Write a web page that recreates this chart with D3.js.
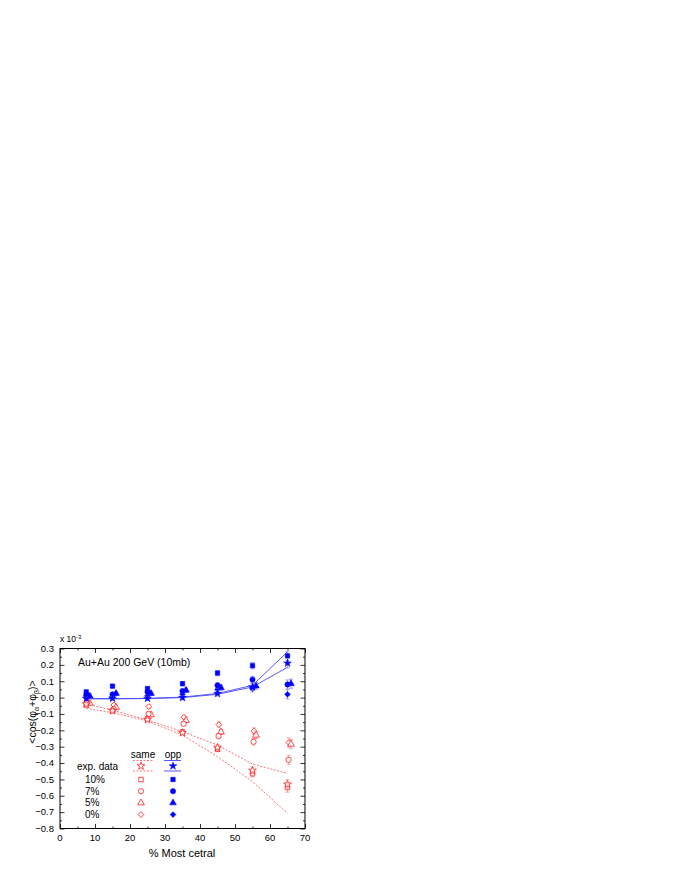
<!DOCTYPE html>
<html>
<head>
<meta charset="utf-8">
<script src="https://cdn.jsdelivr.net/npm/d3@7"></script>
<style>
  body { margin: 0; background: #fff; }
  text { font-family: "Liberation Sans", Arial, sans-serif; }
</style>
</head>
<body>
<svg width="680" height="880"></svg>
<script>
var svg = d3.select("svg");

// centralities (% most central)
var cent = [7.5, 15, 25, 35, 45, 55, 65];
var errs = [0.008, 0.01, 0.012, 0.013, 0.016, 0.02, 0.028];

// opposite charge (blue, filled)
var oppStar = [-0.005, -0.005, -0.005, 0.0, 0.025, 0.065, 0.21];
var opp10 = [0.035, 0.07, 0.055, 0.085, 0.15, 0.195, 0.255];
var opp7 = [0.015, 0.02, 0.035, 0.04, 0.075, 0.11, 0.08];
var opp5 = [0.01, 0.025, 0.025, 0.045, 0.06, 0.07, 0.085];
var opp0 = [0.0, 0.005, 0.01, 0.02, 0.05, 0.055, 0.02];
var oppLineA = [-0.007, -0.007, -0.005, 0.003, 0.025, 0.075, 0.28];
var oppLineB = [-0.007, -0.007, -0.006, 0.0, 0.02, 0.065, 0.185];

// same charge (red, open)
var sameStar = [-0.04, -0.08, -0.135, -0.215, -0.305, -0.445, -0.53];
var same10 = [-0.045, -0.08, -0.13, -0.21, -0.315, -0.465, -0.55];
var same7 = [-0.03, -0.07, -0.1, -0.16, -0.235, -0.27, -0.38];
var same5 = [-0.035, -0.06, -0.105, -0.14, -0.21, -0.23, -0.285];
var same0 = [-0.025, -0.045, -0.055, -0.12, -0.165, -0.205, -0.275];
var sameLineA = [-0.039, -0.076, -0.137, -0.208, -0.29, -0.406, -0.463];
var sameLineB = [-0.066, -0.092, -0.143, -0.229, -0.361, -0.514, -0.707];

var xTicks = [0, 10, 20, 30, 40, 50, 60, 70];
var yTicks = [0.3, 0.2, 0.1, 0.0, -0.1, -0.2, -0.3, -0.4, -0.5, -0.6, -0.7, -0.8];
var legendRows = ["10%", "7%", "5%", "0%"];

var x = d3.scaleLinear().domain([0, 70]).range([60, 305]);
var y = d3.scaleLinear().domain([-0.8, 0.3]).range([828.5, 648.5]);

var blue = "#0000ff", red = "#ff2020";
var blueErr = "#8c8cff", redErr = "#ff9090";

var xMinor = d3.range(5, 70, 10);
var yMinor = d3.range(-0.75, 0.3, 0.1);

// inward ticks on all four sides
function ticks(axis, tr, vals, len) {
  var g = svg.append("g").attr("transform", tr);
  g.call(axis.tickValues(vals).tickSize(len).tickFormat(""));
}
ticks(d3.axisTop(x), "translate(0,828.5)", xMinor, 2);
ticks(d3.axisTop(x), "translate(0,828.5)", xTicks, 4.5);
ticks(d3.axisBottom(x), "translate(0,648.5)", xMinor, 2);
ticks(d3.axisBottom(x), "translate(0,648.5)", xTicks, 4.5);
ticks(d3.axisRight(y), "translate(60,0)", yMinor, 2);
ticks(d3.axisRight(y), "translate(60,0)", yTicks, 4.5);
ticks(d3.axisLeft(y), "translate(305,0)", yMinor, 2);
ticks(d3.axisLeft(y), "translate(305,0)", yTicks, 4.5);
svg.selectAll(".domain").remove();
svg.selectAll(".tick line").attr("stroke", "#000").attr("stroke-width", 0.8);

// tick labels
svg.append("g").selectAll("text").data(xTicks).enter().append("text")
  .attr("x", function (d) { return x(d); })
  .attr("y", 841)
  .attr("text-anchor", "middle")
  .attr("font-size", 9.5)
  .text(function (d) { return d; });

svg.append("g").selectAll("text").data(yTicks).enter().append("text")
  .attr("x", 54)
  .attr("y", function (d) { return y(d) + 3.3; })
  .attr("text-anchor", "end")
  .attr("font-size", 9.5)
  .text(function (d) { return d3.format(".1f")(d); });

// frame
svg.append("rect")
  .attr("x", 60).attr("y", 648.5).attr("width", 245).attr("height", 180)
  .attr("fill", "none").attr("stroke", "#000").attr("stroke-width", 1);

// x 10^-3
var mult = svg.append("text").attr("x", 60).attr("y", 642).attr("font-size", 8.5);
mult.append("tspan").text("x 10");
mult.append("tspan").attr("dy", -3.5).attr("font-size", 6).text("-3");

// axis titles
svg.append("text")
  .attr("x", 182).attr("y", 857)
  .attr("text-anchor", "middle").attr("font-size", 11)
  .text("% Most cetral");

var yt = svg.append("text")
  .attr("transform", "translate(36,712) rotate(-90)")
  .attr("text-anchor", "middle").attr("font-size", 10.5);
yt.append("tspan").text("<cos(\u03c6");
yt.append("tspan").attr("dy", 3).attr("font-size", 7).text("\u03b1");
yt.append("tspan").attr("dy", -3).text("+\u03c6");
yt.append("tspan").attr("dy", 3).attr("font-size", 7).text("\u03b2");
yt.append("tspan").attr("dy", -3).text(")>");

svg.append("text")
  .attr("x", 78).attr("y", 665.5)
  .attr("font-size", 10.5)
  .text("Au+Au 200 GeV (10mb)");

// model lines
var line = d3.line()
  .x(function (d, i) { return x(cent[i]); })
  .y(function (d) { return y(d); });

[sameLineA, sameLineB].forEach(function (s) {
  svg.append("path").attr("d", line(s))
    .attr("fill", "none").attr("stroke", "#ff5050")
    .attr("stroke-width", 0.8).attr("stroke-dasharray", "2,1.5");
});
[oppLineA, oppLineB].forEach(function (s) {
  svg.append("path").attr("d", line(s))
    .attr("fill", "none").attr("stroke", "#4646ff")
    .attr("stroke-width", 0.9);
});

var sym = {
  star: d3.symbol().type(d3.symbolStar).size(19),
  square: d3.symbol().type(d3.symbolSquare).size(20),
  circle: d3.symbol().type(d3.symbolCircle).size(22),
  triangle: d3.symbol().type(d3.symbolTriangle).size(20),
  diamond: d3.symbol().type(d3.symbolSquare).size(17)
};
function rot(shape) { return shape === "diamond" ? " rotate(45)" : ""; }

function series(vals, shape, dx, filled, col, ecol) {
  var g = svg.append("g");
  var pts = vals.map(function (v, i) { return { cx: cent[i] + dx, v: v, e: errs[i] }; });
  var eb = g.selectAll(".eb").data(pts).enter().append("g");
  eb.append("line")
    .attr("x1", function (d) { return x(d.cx); }).attr("x2", function (d) { return x(d.cx); })
    .attr("y1", function (d) { return y(d.v - d.e); }).attr("y2", function (d) { return y(d.v + d.e); })
    .attr("stroke", ecol).attr("stroke-width", 0.8);
  [-1, 1].forEach(function (sgn) {
    eb.append("line")
      .attr("x1", function (d) { return x(d.cx) - 2; }).attr("x2", function (d) { return x(d.cx) + 2; })
      .attr("y1", function (d) { return y(d.v + sgn * d.e); }).attr("y2", function (d) { return y(d.v + sgn * d.e); })
      .attr("stroke", ecol).attr("stroke-width", 0.8);
  });
  g.selectAll(".m").data(pts).enter().append("path")
    .attr("d", sym[shape])
    .attr("transform", function (d) { return "translate(" + x(d.cx) + "," + y(d.v) + ")" + rot(shape); })
    .attr("fill", filled ? col : "#fff")
    .attr("stroke", col)
    .attr("stroke-width", filled ? 0.5 : 0.8);
}

series(same0, "diamond", 0.4, false, red, redErr);
series(same5, "triangle", 1, false, red, redErr);
series(same7, "circle", 0.3, false, red, redErr);
series(same10, "square", 0, false, red, redErr);
series(sameStar, "star", 0, false, red, redErr);

series(opp0, "diamond", 0, true, blue, blueErr);
series(opp5, "triangle", 1, true, blue, blueErr);
series(opp7, "circle", 0, true, blue, blueErr);
series(opp10, "square", 0, true, blue, blueErr);
series(oppStar, "star", 0, true, blue, blueErr);

// legend
var lg = svg.append("g").attr("font-size", 10);
lg.append("text").attr("x", 143).attr("y", 758).attr("text-anchor", "middle").text("same");
lg.append("text").attr("x", 173).attr("y", 758).attr("text-anchor", "middle").text("opp");
[760.5, 771].forEach(function (ly) {
  lg.append("line").attr("x1", 133).attr("x2", 153).attr("y1", ly).attr("y2", ly)
    .attr("stroke", "#ff5050").attr("stroke-width", 0.8).attr("stroke-dasharray", "2,1.5");
  lg.append("line").attr("x1", 164).attr("x2", 181).attr("y1", ly).attr("y2", ly)
    .attr("stroke", "#4646ff").attr("stroke-width", 0.9);
});
lg.append("text").attr("x", 77).attr("y", 769.5).text("exp. data");
lg.append("path").attr("d", sym.star).attr("transform", "translate(141,766)")
  .attr("fill", "#fff").attr("stroke", red).attr("stroke-width", 0.8);
lg.append("path").attr("d", sym.star).attr("transform", "translate(173,766)")
  .attr("fill", blue).attr("stroke", blue).attr("stroke-width", 0.5);
var shapes = ["square", "circle", "triangle", "diamond"];
legendRows.forEach(function (r, i) {
  var ly = 779.5 + i * 11.7;
  lg.append("text").attr("x", 85).attr("y", ly + 3.5).text(r);
  lg.append("path").attr("d", sym[shapes[i]]).attr("transform", "translate(141," + ly + ")" + rot(shapes[i]))
    .attr("fill", "#fff").attr("stroke", red).attr("stroke-width", 0.8);
  lg.append("path").attr("d", sym[shapes[i]]).attr("transform", "translate(173," + ly + ")" + rot(shapes[i]))
    .attr("fill", blue).attr("stroke", blue).attr("stroke-width", 0.5);
});
</script>
</body>
</html>
